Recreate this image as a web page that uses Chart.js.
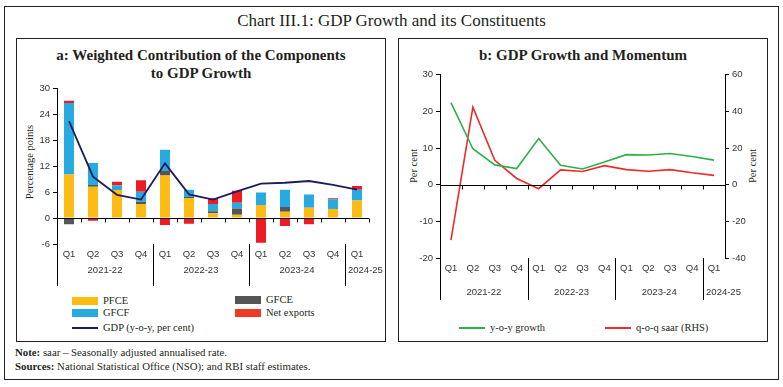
<!DOCTYPE html>
<html>
<head>
<meta charset="utf-8">
<script src="https://cdn.jsdelivr.net/npm/chart.js@4.4.1/dist/chart.umd.min.js"></script>
<style>
  body { margin: 0; width: 783px; height: 387px; position: relative; overflow: hidden; background: #fff;
         font-family: "Liberation Serif", serif; color: #231f20; }
  .abs { position: absolute; }
  .box { position: absolute; box-sizing: border-box; border: 1.5px solid #222; }
  .ptitle { position: absolute; text-align: center; font-weight: bold; font-size: 15px; line-height: 18px; }
  .ytitle { position: absolute; font-size: 10.5px; white-space: nowrap; transform: translate(-50%, -50%) rotate(-90deg); }
  .leg { position: absolute; font-size: 10.5px; white-space: nowrap; line-height: 12px; }
  .sw { position: absolute; width: 26px; height: 8px; }
  .ln { position: absolute; width: 26px; height: 2px; }
  canvas { position: absolute; }
  .note { position: absolute; left: 15px; font-size: 10.8px; white-space: nowrap; }
</style>
</head>
<body>
<div class="box" style="left:4px;top:6px;width:775px;height:374px;"></div>
<div class="abs" style="left:0;width:783px;top:11px;text-align:center;font-size:17px;">Chart III.1: GDP Growth and its Constituents</div>

<div class="box" style="left:16px;top:38px;width:370px;height:304px;"></div>
<div class="ptitle" style="left:16px;width:370px;top:46px;">a: Weighted Contribution of the Components<br>to GDP Growth</div>
<div class="ytitle" style="left:29px;top:162px;">Percentage points</div>
<canvas id="chartA" width="370" height="210" style="left:16px;top:80px;"></canvas>

<div class="sw" style="left:72px;top:297px;background:#FDBB13;"></div><div class="leg" style="left:103px;top:295px;">PFCE</div>
<div class="sw" style="left:72px;top:309px;background:#27AAE1;"></div><div class="leg" style="left:103px;top:307px;">GFCF</div>
<div class="ln" style="left:72px;top:327px;background:#1D1D5C;"></div><div class="leg" style="left:103px;top:322px;">GDP (y-o-y, per cent)</div>
<div class="sw" style="left:235px;top:296px;background:#555555;"></div><div class="leg" style="left:266px;top:294px;">GFCE</div>
<div class="sw" style="left:235px;top:309px;background:#EE3B24;"></div><div class="leg" style="left:266px;top:307px;">Net exports</div>

<div class="box" style="left:398px;top:38px;width:370px;height:304px;"></div>
<div class="ptitle" style="left:398px;width:370px;top:46px;">b: GDP Growth and Momentum</div>
<div class="ytitle" style="left:413px;top:166px;">Per cent</div>
<div class="ytitle" style="left:752px;top:166px;">Per cent</div>
<canvas id="chartB" width="370" height="240" style="left:398px;top:66px;"></canvas>

<div class="ln" style="left:459px;top:327px;background:#2DB04B;"></div><div class="leg" style="left:490px;top:322px;">y-o-y growth</div>
<div class="ln" style="left:605px;top:327px;background:#EE2A2A;"></div><div class="leg" style="left:636px;top:322px;">q-o-q saar (RHS)</div>

<div class="note" style="top:346px;"><b>Note:</b> saar – Seasonally adjusted annualised rate.</div>
<div class="note" style="top:360px;"><b>Sources:</b> National Statistical Office (NSO); and RBI staff estimates.</div>

<script>
const quarters = ['Q1', 'Q2', 'Q3', 'Q4', 'Q1', 'Q2', 'Q3', 'Q4', 'Q1', 'Q2', 'Q3', 'Q4', 'Q1'];
const years = ['2021-22', '2022-23', '2023-24', '2024-25'];
const yearSpans = [4, 4, 4, 1];

// panel a: weighted contributions (percentage points)
const pfce = [10.1, 7.3, 6.5, 3.3, 9.9, 4.65, 1.1, 0.8, 3.05, 1.5, 2.4, 2.1, 4.1];
const gfce = [-1.45, 0.4, 0, 0.5, 1.15, 0.25, 0.5, 1.45, 0, 1.05, 0, 0, 0];
const gfcf = [16.6, 5.1, 1.05, 2.3, 4.8, 1.7, 1.7, 1.3, 2.9, 4.0, 3.1, 2.3, 2.5];
const netExports = [0.5, -0.6, 0.9, 2.7, -1.6, -1.3, 1.3, 2.8, -5.7, -1.8, -1.45, 0.2, 0.85];
const gdp = [22.5, 9.6, 5.4, 4.3, 12.7, 5.5, 4.3, 6.2, 8.0, 8.2, 8.6, 7.7, 6.6];

// panel b: growth and momentum (per cent)
const yoyGrowth = [22.4, 9.8, 5.4, 4.4, 12.6, 5.3, 4.3, 6.2, 8.2, 8.1, 8.5, 7.7, 6.7];
const qoqSaar = [-30.2, 42.3, 13.3, 3.4, -2.2, 8.1, 7.2, 10.4, 8.2, 7.3, 8.2, 6.5, 5.1];

const tickFont = {family: 'Liberation Sans', size: 9.5};
const tickColor = '#333';

// zero line with boundary ticks, year group labels and separators
const groupAxis = {
    id: 'groupAxis',
    afterDatasetsDraw(chart, args, opts) {
        const {ctx, chartArea: area, scales} = chart;
        const x = scales.x;
        const y0 = Math.round(scales[opts.valueScale].getPixelForValue(0)) + 0.5;
        const half = (x.getPixelForValue(1) - x.getPixelForValue(0)) / 2;
        ctx.save();
        ctx.strokeStyle = '#000';
        ctx.lineWidth = 1;
        ctx.beginPath();
        ctx.moveTo(area.left, y0);
        ctx.lineTo(area.right, y0);
        for (let i = 1; i <= quarters.length; i++) {
            if (i === quarters.length && !opts.endTick) continue;
            const bx = Math.round(x.getPixelForValue(i - 1) + half) + 0.5;
            ctx.moveTo(bx, y0);
            ctx.lineTo(bx, y0 + 4);
        }
        ctx.moveTo(area.left + 0.5, area.bottom);
        ctx.lineTo(area.left + 0.5, opts.sepBottom);
        ctx.font = '9.5px "Liberation Sans"';
        ctx.fillStyle = tickColor;
        ctx.textBaseline = 'middle';
        let start = 0;
        years.forEach((yr, k) => {
            const end = start + yearSpans[k];
            const x1 = x.getPixelForValue(start) - half;
            const x2 = x.getPixelForValue(end - 1) + half;
            if (ctx.measureText(yr).width > x2 - x1) {
                ctx.textAlign = 'left';
                ctx.fillText(yr, x1 + 3, opts.yearY);
            } else {
                ctx.textAlign = 'center';
                ctx.fillText(yr, (x1 + x2) / 2, opts.yearY);
            }
            if (end < quarters.length) {
                const sx = Math.round(x2) + 0.5;
                ctx.moveTo(sx, area.bottom);
                ctx.lineTo(sx, opts.sepBottom);
            }
            start = end;
        });
        ctx.stroke();
        ctx.restore();
    }
};

function valueAxis(min, max, step, position, width) {
    return {
        position: position,
        min: min,
        max: max,
        ticks: {stepSize: step, color: tickColor, font: tickFont, padding: 3},
        grid: {drawOnChartArea: false, tickLength: 4, color: '#000'},
        border: {display: true, color: '#000', width: 1},
        afterFit: (scale) => { scale.width = width; }
    };
}

function categoryAxis(height) {
    return {
        stacked: true,
        offset: true,
        ticks: {color: tickColor, font: tickFont, padding: 5, autoSkip: false, maxRotation: 0},
        grid: {display: false, drawTicks: false},
        border: {display: false},
        afterFit: (scale) => { scale.height = height; }
    };
}

function bar(label, data, color) {
    return {type: 'bar', label: label, data: data, backgroundColor: color, order: 1,
            barPercentage: 0.52, categoryPercentage: 0.8};
}

new Chart(document.getElementById('chartA'), {
    data: {
        labels: quarters,
        datasets: [
            {type: 'line', label: 'GDP (y-o-y, per cent)', data: gdp, borderColor: '#1D1D5C',
             borderWidth: 1.8, pointRadius: 0, tension: 0, stack: 'gdp', order: 0},
            bar('PFCE', pfce, '#FDBB13'),
            bar('GFCE', gfce, '#555555'),
            bar('GFCF', gfcf, '#27AAE1'),
            bar('Net exports', netExports, '#ED1C24')
        ]
    },
    options: {
        responsive: false,
        animation: false,
        layout: {padding: {top: 7, right: 17, left: 0, bottom: 0}},
        scales: {
            x: categoryAxis(46),
            y: Object.assign(valueAxis(-6, 30, 6, 'left', 41), {stacked: true})
        },
        plugins: {
            legend: {display: false},
            tooltip: {enabled: false},
            groupAxis: {valueScale: 'y', endTick: true, yearY: 190.5, sepBottom: 206}
        }
    },
    plugins: [groupAxis]
});

new Chart(document.getElementById('chartB'), {
    type: 'line',
    data: {
        labels: quarters,
        datasets: [
            {label: 'y-o-y growth', data: yoyGrowth, borderColor: '#2DB04B', borderWidth: 1.6,
             pointRadius: 0, tension: 0, yAxisID: 'y'},
            {label: 'q-o-q saar (RHS)', data: qoqSaar, borderColor: '#EE2A2A', borderWidth: 1.6,
             pointRadius: 0, tension: 0, yAxisID: 'y1'}
        ]
    },
    options: {
        responsive: false,
        animation: false,
        layout: {padding: {top: 7, right: 0, left: 0, bottom: 0}},
        scales: {
            x: categoryAxis(48),
            y: valueAxis(-20, 30, 10, 'left', 42),
            y1: valueAxis(-40, 60, 20, 'right', 43)
        },
        plugins: {
            legend: {display: false},
            tooltip: {enabled: false},
            groupAxis: {valueScale: 'y', endTick: false, yearY: 226, sepBottom: 234}
        }
    },
    plugins: [groupAxis]
});
</script>
</body>
</html>
